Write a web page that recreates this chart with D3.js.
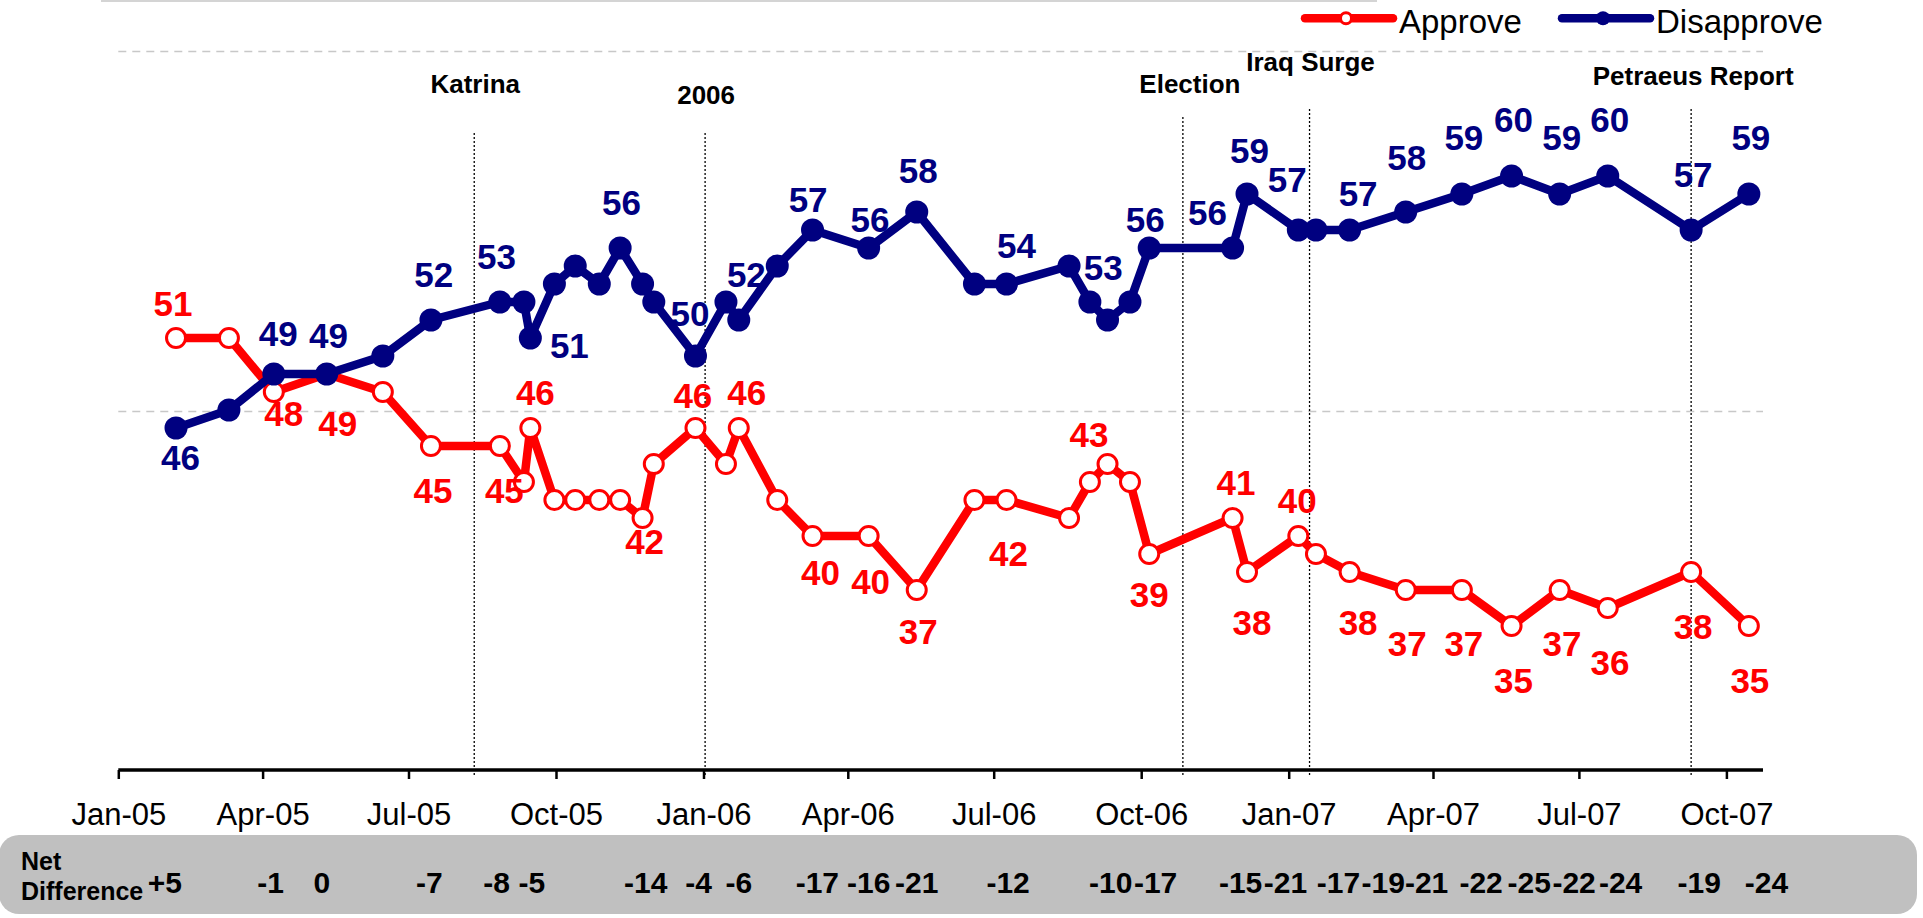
<!DOCTYPE html>
<html>
<head>
<meta charset="utf-8">
<script src="https://cdn.jsdelivr.net/npm/d3@7"></script>
<style>
  html, body { margin: 0; padding: 0; background: #ffffff; }
  svg { display: block; font-family: "Liberation Sans", Arial, sans-serif; }
</style>
</head>
<body>
<svg id="chart" width="1923" height="918"></svg>
<script>
// ---------------- DATA ----------------
const surveyDates = ["2005-02-06","2005-03-11","2005-04-08","2005-05-11","2005-06-15","2005-07-15","2005-08-27","2005-09-11","2005-09-15","2005-09-30",
  "2005-10-13","2005-10-28","2005-11-10","2005-11-24","2005-12-01","2005-12-27","2006-01-15","2006-01-23","2006-02-16","2006-03-10",
  "2006-04-14","2006-05-14","2006-06-19","2006-07-09","2006-08-17","2006-08-30","2006-09-10","2006-09-24","2006-10-06","2006-11-27",
  "2006-12-06","2007-01-07","2007-01-18","2007-02-08","2007-03-15","2007-04-19","2007-05-20","2007-06-19","2007-07-19","2007-09-09","2007-10-15"];
const approve = [51,51,48,49,48,45,45,43,46,42,42,42,42,41,44,46,44,46,42,40,40,37,42,42,41,43,44,43,39,41,38,40,39,38,37,37,35,37,36,38,35];
const disapprove = [46,47,49,49,50,52,53,53,51,54,55,54,56,54,53,50,53,52,55,57,56,58,54,54,55,53,52,53,56,56,59,57,57,57,58,59,60,59,60,57,59];

// which points carry a value label
const approveLabeled = [0,2,3,5,6,8,12,15,17,19,20,21,23,25,28,29,30,31,33,34,35,36,37,38,39,40];
const disapproveLabeled = [0,2,3,5,6,8,12,15,17,19,20,21,23,25,28,29,30,31,33,34,35,36,37,38,39,40];

// event markers
const eventNames = ["Katrina","2006","Election","Iraq Surge","Petraeus Report"];
const eventDates = ["2005-08-11","2006-01-02","2006-10-27","2007-01-14","2007-09-09"];

// x-axis ticks
const tickDates = ["2005-01-01","2005-04-01","2005-07-01","2005-10-01","2006-01-01","2006-04-01","2006-07-01","2006-10-01",
  "2007-01-01","2007-04-01","2007-07-01","2007-10-01"];

// net difference row
const netLabels = ["+5","-1","0","-7","-8","-5","-14","-4","-6","-17","-16","-21","-12","-10","-17","-15","-21","-17","-19","-21","-22","-25","-22","-24","-19","-24"];
const netDates = ["2005-01-30","2005-04-06","2005-05-08","2005-07-14","2005-08-25","2005-09-16","2005-11-26","2005-12-29","2006-01-23","2006-03-13",
  "2006-04-14","2006-05-14","2006-07-10","2006-09-12","2006-10-10","2006-12-02","2006-12-30","2007-02-01","2007-03-01","2007-03-28",
  "2007-05-01","2007-05-31","2007-06-28","2007-07-27","2007-09-14","2007-10-26"];

const seriesNames = ["Approve","Disapprove"];
const gridValues = [47, 67];

// ---------------- LAYOUT (label nudges, px relative to point) ----------------
const approveNudge = {0:[-3,-22],2:[10,34],3:[11,62],5:[2,57],6:[4.5,57],8:[5,-23],12:[24.5,54],15:[-2.6,-20],17:[8,-23],
  19:[8,49],20:[2,58],21:[1.6,54],23:[2,66],25:[-1,-35],28:[0,53],29:[3.5,-23],30:[5,63],31:[-1,-23],33:[8.5,63],
  34:[1.5,66],35:[2,66],36:[2,67],37:[2.4,66],38:[2.3,67],39:[2,67],40:[1,67]};
const disapproveNudge = {0:[4.5,42],2:[4.4,-28],3:[1.7,-26],5:[2.7,-33],6:[-3.3,-33],8:[39,20],12:[1.4,-33],15:[-5.5,-30],
  17:[7.6,-33],19:[-4.4,-18],20:[1.4,-16],21:[1.6,-29],23:[10,-26],25:[13.4,-22],28:[-4,-16],29:[-25,-23],30:[2.4,-31],
  31:[-11,-38],33:[8.5,-24],34:[1,-42],35:[2,-44],36:[2,-44],37:[2,-44],38:[2,-44],39:[2,-43],40:[2,-44]};
const eventLabelBase = [93, 104, 93, 71, 85];
const eventLabelDx = [1, 1, 7, 1, 2];
const eventLineTop = [133,133,117,109,109];

// ---------------- DRAW ----------------
const parse = d3.timeParse("%Y-%m-%d");
const RED = "#FF0000", NAVY = "#000080";
const svg = d3.select("#chart");

const x = d3.scaleTime()
  .domain([parse("2005-01-01"), parse("2007-10-01")])
  .range([118.3, 1726.4]);
const y = d3.scaleLinear().domain([27, 67]).range([770, 50]);
const axisY = 770, axisLeft = 118.3, axisRight = 1763;

// top thin frame line
svg.append("line").attr("x1", 101).attr("x2", 1377).attr("y1", 1).attr("y2", 1)
  .attr("stroke", "#d4d4d4").attr("stroke-width", 2);

// gridlines
svg.append("g").selectAll("line").data(gridValues).join("line")
  .attr("x1", axisLeft).attr("x2", axisRight)
  .attr("y1", d => y(d) + 1.5).attr("y2", d => y(d) + 1.5)
  .attr("stroke", "#c8c8c8").attr("stroke-width", 1.3).attr("stroke-dasharray", "8,6");

// event lines and labels
const evG = svg.append("g");
eventDates.forEach((d, i) => {
  const ex = x(parse(d));
  evG.append("line").attr("x1", ex).attr("x2", ex).attr("y1", eventLineTop[i]).attr("y2", axisY + 5)
    .attr("stroke", "#000").attr("stroke-width", 1.3).attr("stroke-dasharray", "2,2");
  evG.append("text").attr("x", ex + eventLabelDx[i]).attr("y", eventLabelBase[i])
    .attr("text-anchor", "middle").attr("font-size", 26).attr("font-weight", "bold").attr("fill", "#000")
    .text(eventNames[i]);
});

// x axis
const ticks = tickDates.map(parse);
const axG = svg.append("g").attr("transform", `translate(0,${axisY})`);
axG.append("line").attr("x1", axisLeft).attr("x2", axisRight).attr("y1", 0).attr("y2", 0)
  .attr("stroke", "#000").attr("stroke-width", 3.5);
const xAxis = d3.axisBottom(x).tickValues(ticks).tickFormat(d3.timeFormat("%b-%y")).tickSize(9).tickSizeOuter(0);
axG.call(xAxis);
axG.select(".domain").remove();
axG.selectAll(".tick line").attr("stroke", "#000").attr("stroke-width", 2.5);
axG.selectAll(".tick text").attr("font-size", 31).attr("font-family", '"Liberation Sans", Arial, sans-serif')
  .attr("fill", "#000").attr("y", 0).attr("dy", 55);

// series
const pts = surveyDates.map((d, i) => ({ date: parse(d), a: approve[i], dis: disapprove[i], i }));
const line = acc => d3.line().x(d => x(d.date)).y(d => y(acc(d)));

// Approve (drawn first, underneath)
svg.append("path").datum(pts).attr("d", line(d => d.a))
  .attr("fill", "none").attr("stroke", RED).attr("stroke-width", 8.5).attr("stroke-linejoin", "round");
svg.append("g").selectAll("circle").data(pts).join("circle")
  .attr("cx", d => x(d.date)).attr("cy", d => y(d.a)).attr("r", 9.5)
  .attr("fill", "#fff").attr("stroke", RED).attr("stroke-width", 3);

// Disapprove
svg.append("path").datum(pts).attr("d", line(d => d.dis))
  .attr("fill", "none").attr("stroke", NAVY).attr("stroke-width", 8.5).attr("stroke-linejoin", "round");
svg.append("g").selectAll("circle").data(pts).join("circle")
  .attr("cx", d => x(d.date)).attr("cy", d => y(d.dis)).attr("r", 11.5)
  .attr("fill", NAVY);

// value labels
function labels(idx, acc, nudge, color) {
  svg.append("g").selectAll("text").data(idx.map(i => pts[i])).join("text")
    .attr("x", d => x(d.date) + nudge[d.i][0])
    .attr("y", d => y(acc(d)) + nudge[d.i][1])
    .attr("text-anchor", "middle").attr("font-size", 35).attr("font-weight", "bold")
    .attr("fill", color).text(d => acc(d));
}
labels(approveLabeled, d => d.a, approveNudge, RED);
labels(disapproveLabeled, d => d.dis, disapproveNudge, NAVY);

// legend
const leg = svg.append("g");
const legItems = [
  { name: seriesNames[0], x0: 1305, x1: 1393, color: RED, open: true, tx: 1399 },
  { name: seriesNames[1], x0: 1562, x1: 1650, color: NAVY, open: false, tx: 1656 }
];
legItems.forEach(it => {
  leg.append("line").attr("x1", it.x0).attr("x2", it.x1).attr("y1", 18.3).attr("y2", 18.3)
    .attr("stroke", it.color).attr("stroke-width", 8.5).attr("stroke-linecap", "round");
  leg.append("circle").attr("cx", (it.x0 + it.x1) / 2 - 3).attr("cy", 18.3).attr("r", it.open ? 5.5 : 7)
    .attr("fill", it.open ? "#fff" : it.color).attr("stroke", it.color).attr("stroke-width", it.open ? 3 : 0);
  leg.append("text").attr("x", it.tx).attr("y", 33).attr("font-size", 33).attr("fill", "#000").text(it.name);
});

// net difference band
svg.append("rect").attr("x", -1).attr("y", 835).attr("width", 1918).attr("height", 79).attr("rx", 20).attr("ry", 20)
  .attr("fill", "#c0c0c0");
svg.append("text").attr("x", 21).attr("y", 870).attr("font-size", 25).attr("font-weight", "bold").text("Net");
svg.append("text").attr("x", 21).attr("y", 900).attr("font-size", 25).attr("font-weight", "bold").text("Difference");
svg.append("g").selectAll("text").data(netLabels).join("text")
  .attr("x", (d, i) => x(parse(netDates[i])))
  .attr("y", 893)
  .attr("text-anchor", "middle").attr("font-size", 30).attr("font-weight", "bold").attr("fill", "#000")
  .text(d => d);
</script>
</body>
</html>
